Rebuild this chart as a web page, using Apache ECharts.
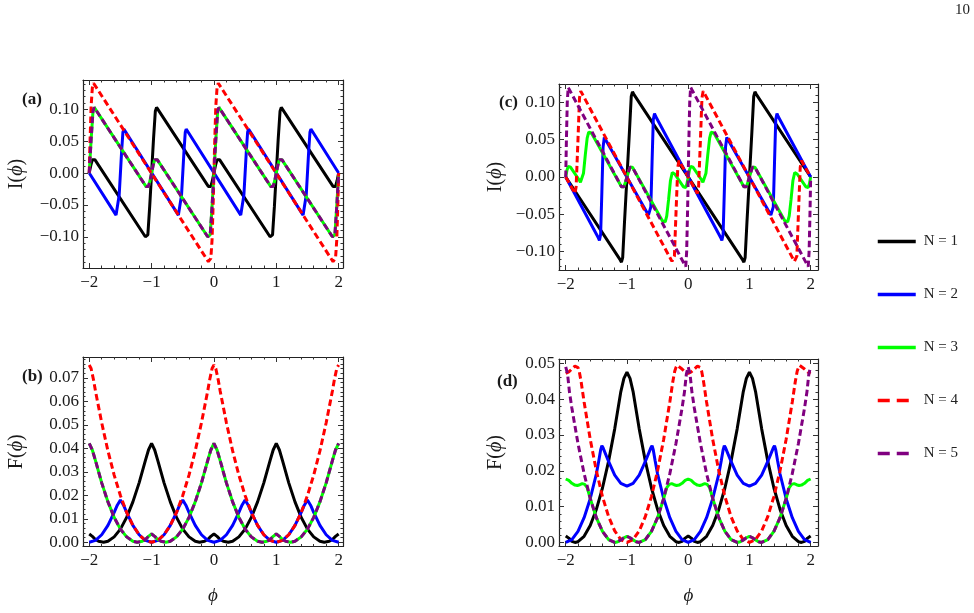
<!DOCTYPE html>
<html>
<head>
<meta charset="utf-8">
<script src="https://cdn.jsdelivr.net/npm/echarts@6/dist/echarts.min.js"></script>
<style>
  html, body { margin: 0; padding: 0; background: #fff; }
  #chart { width: 974px; height: 613px; }
</style>
</head>
<body>
<div id="chart"></div>
<script>
// tick labels
const phiTicks = [-2, -1, 0, 1, 2]
const iTicks = [-0.1, -0.05, 0, 0.05, 0.1]
const fTicksB = [0, 0.01, 0.02, 0.03, 0.04, 0.05, 0.06, 0.07]
const fTicksD = [0, 0.01, 0.02, 0.03, 0.04, 0.05]
const seriesNames = ['N = 1', 'N = 2', 'N = 3', 'N = 4', 'N = 5']

// (a) I(phi), points [phi, I]
const aN1 = [[-2,0],[-1.975,0.012],[-1.95,0.021],[-1.93,0.024],[-1.91,0.021],[-1.1,-0.1],[-1.08,-0.103],[-1.06,-0.097],[-1.03,-0.052],[-1,0],[-0.97,0.052],[-0.94,0.097],[-0.92,0.103],[-0.9,0.1],[-0.09,-0.021],[-0.07,-0.024],[-0.05,-0.021],[-0.025,-0.012],[0,0],[0.025,0.012],[0.05,0.021],[0.07,0.024],[0.09,0.021],[0.9,-0.1],[0.92,-0.103],[0.94,-0.097],[0.97,-0.052],[1,0],[1.03,0.052],[1.06,0.097],[1.08,0.103],[1.1,0.1],[1.91,-0.021],[1.93,-0.024],[1.95,-0.021],[1.975,-0.012],[2,0]]
const aN2 = [[-2,0],[-1.57,-0.066],[-1.555,-0.069],[-1.54,-0.064],[-1.52,-0.035],[-1.5,0],[-1.48,0.035],[-1.46,0.064],[-1.445,0.069],[-1.43,0.066],[-0.57,-0.066],[-0.555,-0.069],[-0.54,-0.064],[-0.52,-0.035],[-0.5,0],[-0.48,0.035],[-0.46,0.064],[-0.445,0.069],[-0.43,0.066],[0.43,-0.066],[0.445,-0.069],[0.46,-0.064],[0.48,-0.035],[0.5,0],[0.52,0.035],[0.54,0.064],[0.555,0.069],[0.57,0.066],[1.43,-0.066],[1.445,-0.069],[1.46,-0.064],[1.48,-0.035],[1.5,0],[1.52,0.035],[1.54,0.064],[1.555,0.069],[1.57,0.066],[2,0]]
const aN3 = [[-2,0],[-1.97,0.052],[-1.94,0.097],[-1.92,0.103],[-1.9,0.1],[-1.09,-0.021],[-1.07,-0.024],[-1.05,-0.021],[-1.025,-0.012],[-1,0],[-0.975,0.012],[-0.95,0.021],[-0.93,0.024],[-0.91,0.021],[-0.1,-0.1],[-0.08,-0.103],[-0.06,-0.097],[-0.03,-0.052],[0,0],[0.03,0.052],[0.06,0.097],[0.08,0.103],[0.1,0.1],[0.91,-0.021],[0.93,-0.024],[0.95,-0.021],[0.975,-0.012],[1,0],[1.025,0.012],[1.05,0.021],[1.07,0.024],[1.09,0.021],[1.9,-0.1],[1.92,-0.103],[1.94,-0.097],[1.97,-0.052],[2,0]]
const aN4 = [[-2,0],[-1.99,0.04],[-1.97,0.105],[-1.95,0.134],[-1.93,0.141],[-1.91,0.139],[-0.09,-0.139],[-0.07,-0.141],[-0.05,-0.134],[-0.03,-0.105],[-0.01,-0.04],[0,0],[0.01,0.04],[0.03,0.105],[0.05,0.134],[0.07,0.141],[0.09,0.139],[1.91,-0.139],[1.93,-0.141],[1.95,-0.134],[1.97,-0.105],[1.99,-0.04],[2,0]]
const aN5 = aN3 // N = 5 lies on top of N = 3 in this panel

// (b) F(phi)
const bN1 = [[-2,0.0035],[-1.95,0.0025],[-1.9,0.0012],[-1.85,0.0004],[-1.77,0],[-1.7,0.0004],[-1.6,0.0023],[-1.5,0.0056],[-1.4,0.0106],[-1.3,0.0172],[-1.2,0.0253],[-1.1,0.0348],[-1.05,0.0393],[-1,0.0421],[-0.95,0.0393],[-0.9,0.0348],[-0.8,0.0253],[-0.7,0.0172],[-0.6,0.0106],[-0.5,0.0056],[-0.4,0.0023],[-0.3,0.0004],[-0.23,0],[-0.15,0.0004],[-0.1,0.0012],[-0.05,0.0025],[0,0.0035],[0.05,0.0025],[0.1,0.0012],[0.15,0.0004],[0.23,0],[0.3,0.0004],[0.4,0.0023],[0.5,0.0056],[0.6,0.0106],[0.7,0.0172],[0.8,0.0253],[0.9,0.0348],[0.95,0.0393],[1,0.0421],[1.05,0.0393],[1.1,0.0348],[1.2,0.0253],[1.3,0.0172],[1.4,0.0106],[1.5,0.0056],[1.6,0.0023],[1.7,0.0004],[1.77,0],[1.85,0.0004],[1.9,0.0012],[1.95,0.0025],[2,0.0035]]
const bN2 = [[-2,0],[-1.9,0.0008],[-1.8,0.0032],[-1.7,0.0072],[-1.6,0.0127],[-1.55,0.0158],[-1.5,0.018],[-1.45,0.0158],[-1.4,0.0127],[-1.3,0.0072],[-1.2,0.0032],[-1.1,0.0008],[-1,0],[-0.9,0.0008],[-0.8,0.0032],[-0.7,0.0072],[-0.6,0.0127],[-0.55,0.0158],[-0.5,0.018],[-0.45,0.0158],[-0.4,0.0127],[-0.3,0.0072],[-0.2,0.0032],[-0.1,0.0008],[0,0],[0.1,0.0008],[0.2,0.0032],[0.3,0.0072],[0.4,0.0127],[0.45,0.0158],[0.5,0.018],[0.55,0.0158],[0.6,0.0127],[0.7,0.0072],[0.8,0.0032],[0.9,0.0008],[1,0],[1.1,0.0008],[1.2,0.0032],[1.3,0.0072],[1.4,0.0127],[1.45,0.0158],[1.5,0.018],[1.55,0.0158],[1.6,0.0127],[1.7,0.0072],[1.8,0.0032],[1.9,0.0008],[2,0]]
const bN3 = [[-2,0.0421],[-1.95,0.0393],[-1.9,0.0348],[-1.8,0.0253],[-1.7,0.0172],[-1.6,0.0106],[-1.5,0.0056],[-1.4,0.0023],[-1.3,0.0004],[-1.23,0],[-1.15,0.0004],[-1.1,0.0012],[-1.05,0.0025],[-1,0.0035],[-0.95,0.0025],[-0.9,0.0012],[-0.85,0.0004],[-0.77,0],[-0.7,0.0004],[-0.6,0.0023],[-0.5,0.0056],[-0.4,0.0106],[-0.3,0.0172],[-0.2,0.0253],[-0.1,0.0348],[-0.05,0.0393],[0,0.0421],[0.05,0.0393],[0.1,0.0348],[0.2,0.0253],[0.3,0.0172],[0.4,0.0106],[0.5,0.0056],[0.6,0.0023],[0.7,0.0004],[0.77,0],[0.85,0.0004],[0.9,0.0012],[0.95,0.0025],[1,0.0035],[1.05,0.0025],[1.1,0.0012],[1.15,0.0004],[1.23,0],[1.3,0.0004],[1.4,0.0023],[1.5,0.0056],[1.6,0.0106],[1.7,0.0172],[1.8,0.0253],[1.9,0.0348],[1.95,0.0393],[2,0.0421]]
const bN4 = [[-2,0.0755],[-1.97,0.074],[-1.93,0.069],[-1.9,0.0644],[-1.8,0.0509],[-1.7,0.0389],[-1.6,0.0286],[-1.5,0.0199],[-1.4,0.0127],[-1.3,0.0072],[-1.2,0.0032],[-1.1,0.0008],[-1,0],[-0.9,0.0008],[-0.8,0.0032],[-0.7,0.0072],[-0.6,0.0127],[-0.5,0.0199],[-0.4,0.0286],[-0.3,0.0389],[-0.2,0.0509],[-0.1,0.0644],[-0.07,0.069],[-0.03,0.074],[0,0.0755],[0.03,0.074],[0.07,0.069],[0.1,0.0644],[0.2,0.0509],[0.3,0.0389],[0.4,0.0286],[0.5,0.0199],[0.6,0.0127],[0.7,0.0072],[0.8,0.0032],[0.9,0.0008],[1,0],[1.1,0.0008],[1.2,0.0032],[1.3,0.0072],[1.4,0.0127],[1.5,0.0199],[1.6,0.0286],[1.7,0.0389],[1.8,0.0509],[1.9,0.0644],[1.93,0.069],[1.97,0.074],[2,0.0755]]
const bN5 = bN3 // N = 5 lies on top of N = 3 in this panel

// (c) I(phi)
const cN1 = [[-2,0],[-1.11,-0.111],[-1.09,-0.114],[-1.07,-0.108],[-1.04,-0.06],[-1,0],[-0.96,0.06],[-0.93,0.108],[-0.91,0.114],[-0.89,0.111],[0.89,-0.111],[0.91,-0.114],[0.93,-0.108],[0.96,-0.06],[1,0],[1.04,0.06],[1.07,0.108],[1.09,0.114],[1.11,0.111],[2,0]]
const cN2 = [[-2,0],[-1.47,-0.081],[-1.45,-0.085],[-1.43,-0.077],[-1.41,-0.02],[-1.39,0.04],[-1.37,0.053],[-1.35,0.051],[-0.65,-0.051],[-0.63,-0.053],[-0.61,-0.04],[-0.59,0.02],[-0.57,0.077],[-0.55,0.085],[-0.53,0.081],[0.53,-0.081],[0.55,-0.085],[0.57,-0.077],[0.59,-0.02],[0.61,0.04],[0.63,0.053],[0.65,0.051],[1.35,-0.051],[1.37,-0.053],[1.39,-0.04],[1.41,0.02],[1.43,0.077],[1.45,0.085],[1.47,0.081],[2,0]]
const cN3 = [[-2,0],[-1.98,0.009],[-1.96,0.014],[-1.94,0.015],[-1.92,0.013],[-1.78,-0.004],[-1.76,-0.007],[-1.74,-0.006],[-1.71,0.005],[-1.68,0.03],[-1.65,0.052],[-1.625,0.06],[-1.6,0.061],[-1.58,0.059],[-1.09,-0.013],[-1.07,-0.015],[-1.05,-0.013],[-1.025,-0.007],[-1,0],[-0.975,0.007],[-0.95,0.013],[-0.93,0.015],[-0.91,0.013],[-0.42,-0.059],[-0.4,-0.061],[-0.375,-0.06],[-0.35,-0.052],[-0.32,-0.03],[-0.29,-0.005],[-0.26,0.006],[-0.24,0.007],[-0.22,0.004],[-0.08,-0.013],[-0.06,-0.015],[-0.04,-0.014],[-0.02,-0.009],[0,0],[0.02,0.009],[0.04,0.014],[0.06,0.015],[0.08,0.013],[0.22,-0.004],[0.24,-0.007],[0.26,-0.006],[0.29,0.005],[0.32,0.03],[0.35,0.052],[0.375,0.06],[0.4,0.061],[0.42,0.059],[0.91,-0.013],[0.93,-0.015],[0.95,-0.013],[0.975,-0.007],[1,0],[1.025,0.007],[1.05,0.013],[1.07,0.015],[1.09,0.013],[1.58,-0.059],[1.6,-0.061],[1.625,-0.06],[1.65,-0.052],[1.68,-0.03],[1.71,-0.005],[1.74,0.006],[1.76,0.007],[1.78,0.004],[1.92,-0.013],[1.94,-0.015],[1.96,-0.014],[1.98,-0.009],[2,0]]
const cN4 = [[-2,0],[-1.87,-0.019],[-1.85,-0.022],[-1.83,-0.013],[-1.8,0.05],[-1.775,0.106],[-1.755,0.115],[-1.735,0.113],[-0.265,-0.113],[-0.245,-0.115],[-0.225,-0.106],[-0.2,-0.05],[-0.17,0.013],[-0.15,0.022],[-0.13,0.019],[0.13,-0.019],[0.15,-0.022],[0.17,-0.013],[0.2,0.05],[0.225,0.106],[0.245,0.115],[0.265,0.113],[1.735,-0.113],[1.755,-0.115],[1.775,-0.106],[1.8,-0.05],[1.83,0.013],[1.85,0.022],[1.87,0.019],[2,0]]
const cN5 = [[-2,0],[-1.99,0.045],[-1.975,0.1],[-1.96,0.12],[-1.94,0.117],[-1.09,-0.013],[-1.07,-0.015],[-1.05,-0.013],[-1.025,-0.007],[-1,0],[-0.975,0.007],[-0.95,0.013],[-0.93,0.015],[-0.91,0.013],[-0.06,-0.117],[-0.04,-0.12],[-0.025,-0.1],[-0.01,-0.045],[0,0],[0.01,0.045],[0.025,0.1],[0.04,0.12],[0.06,0.117],[0.91,-0.013],[0.93,-0.015],[0.95,-0.013],[0.975,-0.007],[1,0],[1.025,0.007],[1.05,0.013],[1.07,0.015],[1.09,0.013],[1.94,-0.117],[1.96,-0.12],[1.975,-0.1],[1.99,-0.045],[2,0]]

// (d) F(phi)
const dN1 = [[-2,0.0018],[-1.95,0.0012],[-1.9,0.0003],[-1.85,0],[-1.8,0.0002],[-1.7,0.0017],[-1.6,0.0047],[-1.5,0.0092],[-1.4,0.0152],[-1.3,0.0227],[-1.2,0.0317],[-1.1,0.0421],[-1.05,0.0458],[-1,0.0475],[-0.95,0.0458],[-0.9,0.0421],[-0.8,0.0317],[-0.7,0.0227],[-0.6,0.0152],[-0.5,0.0092],[-0.4,0.0047],[-0.3,0.0017],[-0.2,0.0002],[-0.15,0],[-0.1,0.0003],[-0.05,0.0012],[0,0.0018],[0.05,0.0012],[0.1,0.0003],[0.15,0],[0.2,0.0002],[0.3,0.0017],[0.4,0.0047],[0.5,0.0092],[0.6,0.0152],[0.7,0.0227],[0.8,0.0317],[0.9,0.0421],[0.95,0.0458],[1,0.0475],[1.05,0.0458],[1.1,0.0421],[1.2,0.0317],[1.3,0.0227],[1.4,0.0152],[1.5,0.0092],[1.6,0.0047],[1.7,0.0017],[1.8,0.0002],[1.85,0],[1.9,0.0003],[1.95,0.0012],[2,0.0018]]
const dN2 = [[-2,0],[-1.9,0.0008],[-1.8,0.0031],[-1.7,0.0069],[-1.6,0.0122],[-1.5,0.0191],[-1.46,0.0228],[-1.43,0.0258],[-1.41,0.027],[-1.39,0.0264],[-1.3,0.0226],[-1.2,0.0188],[-1.1,0.0165],[-1,0.0157],[-0.9,0.0165],[-0.8,0.0188],[-0.7,0.0226],[-0.61,0.0264],[-0.59,0.027],[-0.57,0.0258],[-0.54,0.0228],[-0.5,0.0191],[-0.4,0.0122],[-0.3,0.0069],[-0.2,0.0031],[-0.1,0.0008],[0,0],[0.1,0.0008],[0.2,0.0031],[0.3,0.0069],[0.4,0.0122],[0.5,0.0191],[0.54,0.0228],[0.57,0.0258],[0.59,0.027],[0.61,0.0264],[0.7,0.0226],[0.8,0.0188],[0.9,0.0165],[1,0.0157],[1.1,0.0165],[1.2,0.0188],[1.3,0.0226],[1.39,0.0264],[1.41,0.027],[1.43,0.0258],[1.46,0.0228],[1.5,0.0191],[1.6,0.0122],[1.7,0.0069],[1.8,0.0031],[1.9,0.0008],[2,0]]
const dN3 = [[-2,0.0177],[-1.95,0.0173],[-1.9,0.0165],[-1.85,0.016],[-1.81,0.0159],[-1.77,0.0161],[-1.73,0.0164],[-1.69,0.0162],[-1.65,0.0153],[-1.6,0.0123],[-1.5,0.0069],[-1.4,0.0031],[-1.3,0.0008],[-1.2,0],[-1.15,0.0002],[-1.1,0.0007],[-1.05,0.0013],[-1,0.0017],[-0.95,0.0013],[-0.9,0.0007],[-0.85,0.0002],[-0.8,0],[-0.7,0.0008],[-0.6,0.0031],[-0.5,0.0069],[-0.4,0.0123],[-0.35,0.0153],[-0.31,0.0162],[-0.27,0.0164],[-0.23,0.0161],[-0.19,0.0159],[-0.15,0.016],[-0.1,0.0165],[-0.05,0.0173],[0,0.0177],[0.05,0.0173],[0.1,0.0165],[0.15,0.016],[0.19,0.0159],[0.23,0.0161],[0.27,0.0164],[0.31,0.0162],[0.35,0.0153],[0.4,0.0123],[0.5,0.0069],[0.6,0.0031],[0.7,0.0008],[0.8,0],[0.85,0.0002],[0.9,0.0007],[0.95,0.0013],[1,0.0017],[1.05,0.0013],[1.1,0.0007],[1.15,0.0002],[1.2,0],[1.3,0.0008],[1.4,0.0031],[1.5,0.0069],[1.6,0.0123],[1.65,0.0153],[1.69,0.0162],[1.73,0.0164],[1.77,0.0161],[1.81,0.0159],[1.85,0.016],[1.9,0.0165],[1.95,0.0173],[2,0.0177]]
const dN4 = [[-2,0.0472],[-1.95,0.0476],[-1.9,0.0484],[-1.85,0.0492],[-1.82,0.0494],[-1.8,0.0488],[-1.78,0.0478],[-1.75,0.045],[-1.7,0.0392],[-1.6,0.0288],[-1.5,0.02],[-1.4,0.0128],[-1.3,0.0072],[-1.2,0.0032],[-1.1,0.0008],[-1,0],[-0.9,0.0008],[-0.8,0.0032],[-0.7,0.0072],[-0.6,0.0128],[-0.5,0.02],[-0.4,0.0288],[-0.3,0.0392],[-0.25,0.045],[-0.22,0.0478],[-0.2,0.0488],[-0.18,0.0494],[-0.15,0.0492],[-0.1,0.0484],[-0.05,0.0476],[0,0.0472],[0.05,0.0476],[0.1,0.0484],[0.15,0.0492],[0.18,0.0494],[0.2,0.0488],[0.22,0.0478],[0.25,0.045],[0.3,0.0392],[0.4,0.0288],[0.5,0.02],[0.6,0.0128],[0.7,0.0072],[0.8,0.0032],[0.9,0.0008],[1,0],[1.1,0.0008],[1.2,0.0032],[1.3,0.0072],[1.4,0.0128],[1.5,0.02],[1.6,0.0288],[1.7,0.0392],[1.75,0.045],[1.78,0.0478],[1.8,0.0488],[1.82,0.0494],[1.85,0.0492],[1.9,0.0484],[1.95,0.0476],[2,0.0472]]
const dN5 = [[-2,0.049],[-1.97,0.047],[-1.94,0.0421],[-1.9,0.0375],[-1.8,0.0276],[-1.7,0.0192],[-1.6,0.0123],[-1.5,0.0069],[-1.4,0.0031],[-1.3,0.0008],[-1.2,0],[-1.15,0.0002],[-1.1,0.0007],[-1.05,0.0013],[-1,0.0017],[-0.95,0.0013],[-0.9,0.0007],[-0.85,0.0002],[-0.8,0],[-0.7,0.0008],[-0.6,0.0031],[-0.5,0.0069],[-0.4,0.0123],[-0.3,0.0192],[-0.2,0.0276],[-0.1,0.0375],[-0.06,0.0421],[-0.03,0.047],[0,0.049],[0.03,0.047],[0.06,0.0421],[0.1,0.0375],[0.2,0.0276],[0.3,0.0192],[0.4,0.0123],[0.5,0.0069],[0.6,0.0031],[0.7,0.0008],[0.8,0],[0.85,0.0002],[0.9,0.0007],[0.95,0.0013],[1,0.0017],[1.05,0.0013],[1.1,0.0007],[1.15,0.0002],[1.2,0],[1.3,0.0008],[1.4,0.0031],[1.5,0.0069],[1.6,0.0123],[1.7,0.0192],[1.8,0.0276],[1.9,0.0375],[1.94,0.0421],[1.97,0.047],[2,0.049]]

const FONT = '"Liberation Serif", "Times New Roman", serif'
const colors = ['#000000', '#0000ff', '#00ff00', '#ff0000', '#800080']
const dashes = ['solid', 'solid', 'solid', [6.5, 3.5], [6.5, 3.5]]

// layout of the four framed panels
const panels = [
    { tag: '(a)', tagPos: [22, 91], grid: { left: 83, top: 80, width: 260, height: 188 }, xr: [-2.1, 2.07], yr: [-0.149, 0.146], yTicks: iTicks, yStep: 0.01, digits: 2, yName: 'I', nameGap: 56, xName: false, lines: [aN1, aN2, aN3, aN4, aN5] },
    { tag: '(b)', tagPos: [22, 368], grid: { left: 83, top: 357, width: 260, height: 189.5 }, xr: [-2.1, 2.07], yr: [-0.0018, 0.0789], yTicks: fTicksB, yStep: 0.002, digits: 2, yName: 'F', nameGap: 56, xName: true, lines: [bN1, bN2, bN3, bN4, bN5] },
    { tag: '(c)', tagPos: [499, 94], grid: { left: 559, top: 84, width: 259, height: 186 }, xr: [-2.11, 2.12], yr: [-0.1245, 0.1245], yTicks: iTicks, yStep: 0.01, digits: 2, yName: 'I', nameGap: 53, xName: false, lines: [cN1, cN2, cN3, cN4, cN5] },
    { tag: '(d)', tagPos: [497, 373], grid: { left: 559, top: 359, width: 259, height: 187 }, xr: [-2.11, 2.12], yr: [-0.001, 0.0512], yTicks: fTicksD, yStep: 0.002, digits: 2, yName: 'F', nameGap: 53, xName: true, lines: [dN1, dN2, dN3, dN4, dN5] }
]

function minorValues(range, step, majors) {
    const out = []
    const k0 = Math.ceil(range[0] / step - 1e-6)
    const k1 = Math.floor(range[1] / step + 1e-6)
    for (let k = k0; k <= k1; k++) {
        const v = +(k * step).toFixed(6)
        if (!majors.some(m => Math.abs(m - v) < step / 10)) out.push(v)
    }
    return out
}

function fmt(v, digits) {
    const s = Math.abs(v).toFixed(digits)
    return (v < -1e-9 ? '\u2212' : '') + s
}

function makeAxis(gridIndex, range, position, ticks, len, withLine, label) {
    return {
        type: 'value',
        gridIndex: gridIndex,
        min: range[0],
        max: range[1],
        position: position,
        axisLine: { show: withLine, onZero: false, lineStyle: { color: '#222', width: 1.2 } },
        axisTick: { show: true, inside: true, length: len, customValues: ticks, lineStyle: { color: '#333', width: 1 } },
        axisLabel: label || { show: false },
        splitLine: { show: false },
        axisPointer: { show: false }
    }
}

const xAxes = []
const yAxes = []
const grids = []
const series = []

panels.forEach((p, g) => {
    grids.push(Object.assign({ containLabel: false }, p.grid))
    const xMinor = minorValues(p.xr, 0.2, phiTicks)
    const yMinor = minorValues(p.yr, p.yStep, p.yTicks)
    const xi = xAxes.length
    const yi = yAxes.length

    const xMain = makeAxis(g, p.xr, 'bottom', phiTicks, 5, true, {
        customValues: phiTicks, margin: 6, color: '#1a1a1a', fontFamily: FONT, fontSize: 17,
        formatter: v => fmt(v, 0)
    })
    if (p.xName) {
        xMain.name = '\u03d5'
        xMain.nameLocation = 'middle'
        xMain.nameGap = 40
        xMain.nameTextStyle = { fontFamily: FONT, fontSize: 19, fontStyle: 'italic', color: '#1a1a1a' }
    }
    xAxes.push(xMain)
    xAxes.push(makeAxis(g, p.xr, 'bottom', xMinor, 2.5, false))
    xAxes.push(makeAxis(g, p.xr, 'top', phiTicks, 5, true))
    xAxes.push(makeAxis(g, p.xr, 'top', xMinor, 2.5, false))

    const yMain = makeAxis(g, p.yr, 'left', p.yTicks, 5, true, {
        customValues: p.yTicks, margin: 4, color: '#1a1a1a', fontFamily: FONT, fontSize: 17,
        formatter: v => fmt(v, p.digits)
    })
    yMain.name = p.yName + '({i|\u03d5})'
    yMain.nameLocation = 'middle'
    yMain.nameRotate = 90
    yMain.nameGap = p.nameGap
    yMain.nameTextStyle = {
        fontFamily: FONT, fontSize: 20, color: '#1a1a1a',
        rich: { i: { fontFamily: FONT, fontSize: 20, fontStyle: 'italic', color: '#1a1a1a' } }
    }
    yAxes.push(yMain)
    yAxes.push(makeAxis(g, p.yr, 'left', yMinor, 2.5, false))
    yAxes.push(makeAxis(g, p.yr, 'right', p.yTicks, 5, true))
    yAxes.push(makeAxis(g, p.yr, 'right', yMinor, 2.5, false))

    p.lines.forEach((pts, k) => {
        series.push({
            name: seriesNames[k],
            type: 'line',
            xAxisIndex: xi,
            yAxisIndex: yi,
            data: pts,
            symbol: 'none',
            showSymbol: false,
            silent: true,
            lineStyle: { color: colors[k], width: 3, type: dashes[k], cap: 'butt' },
            itemStyle: { color: colors[k] }
        })
    })
})

const chart = echarts.init(document.getElementById('chart'), null, { renderer: 'canvas' })
chart.setOption({
    backgroundColor: '#fff',
    animation: false,
    grid: grids,
    xAxis: xAxes,
    yAxis: yAxes,
    series: series,
    legend: {
        orient: 'vertical',
        left: 871,
        top: 229,
        itemWidth: 38,
        itemHeight: 14,
        itemGap: 38,
        selectedMode: false,
        itemStyle: { opacity: 0 },
        lineStyle: { width: 3.5 },
        textStyle: { fontFamily: FONT, fontSize: 15, color: '#222', padding: [0, 0, 0, 3] },
        data: seriesNames.map((n, k) => k < 3 ? { name: n } : { name: n, lineStyle: { type: [12, 7] } })
    },
    graphic: panels.map(p => ({
        type: 'text',
        left: p.tagPos[0],
        top: p.tagPos[1],
        style: { text: p.tag, font: 'bold 17px ' + FONT, fill: '#1a1a1a' }
    })).concat([{
        type: 'text',
        left: 955,
        top: 3,
        style: { text: '10', font: '15px ' + FONT, fill: '#222' }
    }])
})
</script>
</body>
</html>
